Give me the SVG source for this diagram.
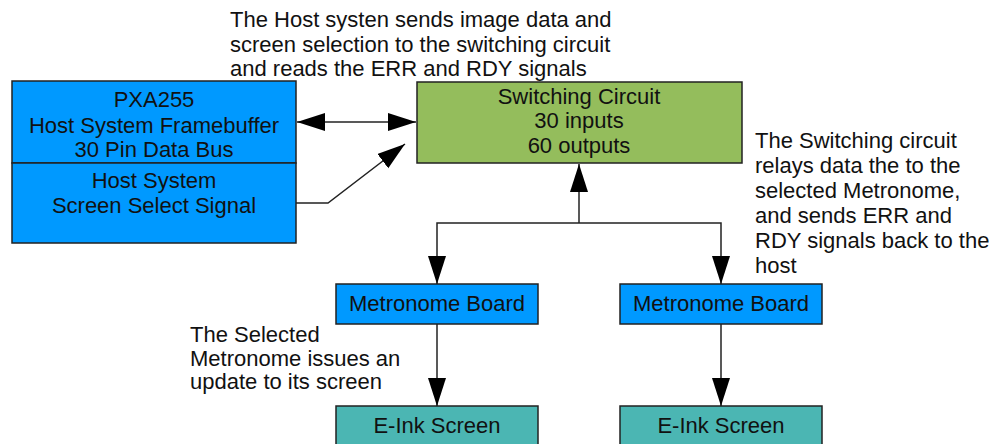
<svg xmlns="http://www.w3.org/2000/svg" width="995" height="444" viewBox="0 0 995 444">
<defs>
<style>
.t{font-family:"Liberation Sans",Arial,sans-serif;font-size:22px;fill:#111}
.c{text-anchor:middle}
.box{stroke:#222;stroke-width:1.5}
.blue{fill:#0099FF}
.green{fill:#94BD5C}
.teal{fill:#4BB6B3}
.ln{fill:none;stroke:#222;stroke-width:1.5}
</style>
<marker id="ah" markerUnits="userSpaceOnUse" markerWidth="30" markerHeight="20" refX="28" refY="9" orient="auto-start-reverse">
<path d="M0,0 L28,9 L0,18 z" fill="#000"/>
</marker>
</defs>
<rect width="995" height="444" fill="#fff"/>
<g id="note-host">
<text class="t" x="230" y="27">The Host systen sends image data and</text>
<text class="t" x="230" y="52">screen selection to the switching circuit</text>
<text class="t" x="230" y="76">and reads the ERR and RDY signals</text>
</g>
<g id="note-switch">
<text class="t" x="755" y="148">The Switching circuit</text>
<text class="t" x="755" y="173">relays data the to the</text>
<text class="t" x="755" y="198">selected Metronome,</text>
<text class="t" x="755" y="223">and sends ERR and</text>
<text class="t" x="755" y="248">RDY signals back to the</text>
<text class="t" x="755" y="273">host</text>
</g>
<g id="note-metronome">
<text class="t" x="190" y="342">The Selected</text>
<text class="t" x="190" y="366">Metronome issues an</text>
<text class="t" x="190" y="389">update to its screen</text>
</g>
<g id="host-framebuffer">
<rect class="box blue" x="12" y="81" width="284" height="82"/>
<text class="t c" x="154" y="107">PXA255</text>
<text class="t c" x="154" y="133">Host System Framebuffer</text>
<text class="t c" x="154" y="157">30 Pin Data Bus</text>
</g>
<g id="host-select">
<rect class="box blue" x="12" y="163" width="284" height="80"/>
<text class="t c" x="154" y="188">Host System</text>
<text class="t c" x="154" y="213">Screen Select Signal</text>
</g>
<g id="switching">
<rect class="box green" x="417" y="82" width="325" height="81"/>
<text class="t c" x="579" y="104">Switching Circuit</text>
<text class="t c" x="579" y="128">30 inputs</text>
<text class="t c" x="579" y="153">60 outputs</text>
</g>
<g id="metronome1">
<rect class="box blue" x="336" y="284" width="202" height="40"/>
<text class="t c" x="437" y="311">Metronome Board</text>
</g>
<g id="metronome2">
<rect class="box blue" x="620" y="284" width="202" height="40"/>
<text class="t c" x="721" y="311">Metronome Board</text>
</g>
<g id="eink1">
<rect class="box teal" x="336" y="406" width="202" height="45"/>
<text class="t c" x="437" y="433">E-Ink Screen</text>
</g>
<g id="eink2">
<rect class="box teal" x="620" y="406" width="202" height="45"/>
<text class="t c" x="721" y="433">E-Ink Screen</text>
</g>
<g id="connectors">
<line class="ln" x1="297" y1="122" x2="416" y2="122" marker-start="url(#ah)" marker-end="url(#ah)"/>
<polyline class="ln" points="296,203 328,203 405,144" marker-end="url(#ah)"/>
<line class="ln" x1="579" y1="223" x2="579" y2="164" marker-end="url(#ah)"/>
<polyline class="ln" points="579,223 437,223 437,284" marker-end="url(#ah)"/>
<polyline class="ln" points="579,223 721,223 721,284" marker-end="url(#ah)"/>
<line class="ln" x1="437" y1="324" x2="437" y2="406" marker-end="url(#ah)"/>
<line class="ln" x1="721" y1="324" x2="721" y2="406" marker-end="url(#ah)"/>
</g>
</svg>
